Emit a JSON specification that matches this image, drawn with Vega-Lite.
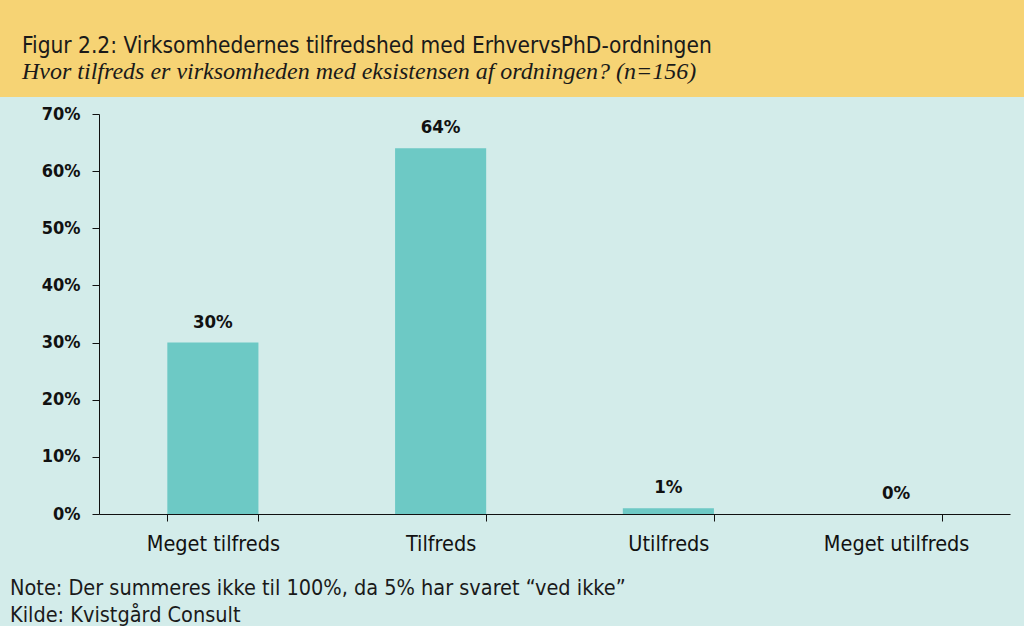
{
  "$schema": "https://vega.github.io/schema/vega-lite/v6.json",
  "background": "#d3ecea",
  "padding": 0,
  "spacing": 8,
  "config": {
    "font": "DejaVu Sans Condensed",
    "view": {"stroke": null}
  },
  "vconcat": [
    {
      "width": 1024,
      "height": 97,
      "view": {"fill": "#f6d374", "stroke": null},
      "title": {
        "text": "Figur 2.2: Virksomhedernes tilfredshed med ErhvervsPhD-ordningen",
        "subtitle": "Hvor tilfreds er virksomheden med eksistensen af ordningen? (n=156)",
        "orient": "top",
        "anchor": "start",
        "frame": "group",
        "dx": 22,
        "offset": -84,
        "font": "DejaVu Sans Condensed",
        "fontSize": 22.5,
        "fontWeight": "normal",
        "color": "#1a1a1a",
        "subtitleFont": "Liberation Serif",
        "subtitleFontStyle": "italic",
        "subtitleFontSize": 24,
        "subtitleColor": "#1a1a1a",
        "subtitlePadding": 3
      },
      "data": {"values": [{"t": ""}]},
      "mark": {"type": "text"},
      "encoding": {"text": {"field": "t"}}
    },
    {
      "width": 1024,
      "height": 400,
      "data": {
        "values": [
          {"svar": "Meget tilfreds", "andel": 0.30},
          {"svar": "Tilfreds", "andel": 0.64},
          {"svar": "Utilfreds", "andel": 0.01},
          {"svar": "Meget utilfreds", "andel": 0.00}
        ]
      },
      "title": {
        "text": ["Note: Der summeres ikke til 100%, da 5% har svaret “ved ikke”", "Kilde: Kvistgård Consult"],
        "orient": "bottom",
        "anchor": "start",
        "frame": "group",
        "dx": 10,
        "offset": 23,
        "font": "DejaVu Sans Condensed",
        "fontSize": 21.5,
        "fontWeight": "normal",
        "lineHeight": 27,
        "color": "#1a1a1a"
      },
      "encoding": {
        "x": {
          "field": "svar",
          "type": "nominal",
          "sort": null,
          "scale": {"paddingInner": 0.6, "paddingOuter": 0.3, "range": [99, 1010]},
          "axis": {
            "title": null,
            "labelAngle": 0,
            "tickBand": "extent",
            "tickSize": 7,
            "tickColor": "#111",
            "domainColor": "#111",
            "labelPadding": 12,
            "labelFont": "DejaVu Sans Condensed",
            "labelFontSize": 21.5,
            "labelFontWeight": "normal",
            "labelColor": "#111"
          }
        },
        "y": {
          "field": "andel",
          "type": "quantitative",
          "scale": {"domain": [0, 0.7]},
          "axis": {
            "title": null,
            "grid": false,
            "offset": -99,
            "values": [0, 0.1, 0.2, 0.3, 0.4, 0.5, 0.6, 0.7],
            "format": ".0%",
            "tickSize": 7,
            "tickColor": "#111",
            "domainColor": "#111",
            "labelPadding": 12,
            "labelFont": "DejaVu Sans Condensed",
            "labelFontSize": 18,
            "labelFontWeight": "bold",
            "labelColor": "#111"
          }
        }
      },
      "layer": [
        {"mark": {"type": "bar", "color": "#6dc9c5"}},
        {
          "mark": {"type": "text", "baseline": "alphabetic", "dy": -15, "fontSize": 18.5, "font": "DejaVu Sans Condensed", "fontWeight": "bold", "color": "#111"},
          "encoding": {"text": {"field": "andel", "type": "quantitative", "format": ".0%"}}
        }
      ]
    }
  ]
}
